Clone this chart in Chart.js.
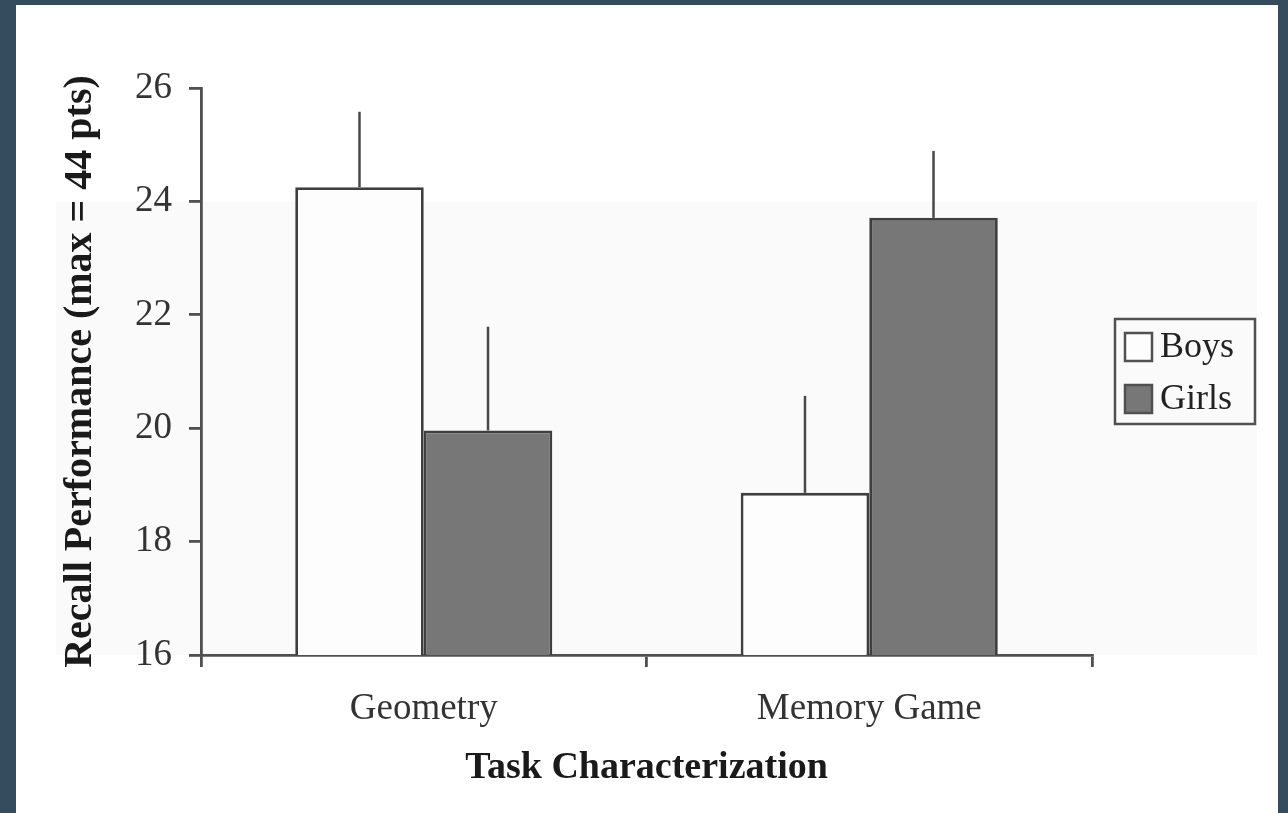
<!DOCTYPE html>
<html>
<head>
<meta charset="utf-8">
<title>Recall Performance by Task Characterization</title>
<script src="https://cdn.jsdelivr.net/npm/chart.js@4/dist/chart.umd.min.js"></script>
<style>
  html, body { margin: 0; padding: 0; }
  body { width: 1288px; height: 813px; background: #344c5e; position: relative; overflow: hidden; }
  #panel { position: absolute; left: 16px; top: 5px; width: 1262px; height: 808px; background: #ffffff; }
  #chart { display: block; }
</style>
</head>
<body>
<div id="panel"><canvas id="chart" width="1262" height="808"></canvas></div>
<script>
// Task categories on the x axis
const categories = ['Geometry', 'Memory Game'];
// Mean recall scores per group
const boysMeans = [24.25, 18.86];
const girlsMeans = [19.96, 23.71];
// Standard errors (drawn as upward whiskers)
const boysErrors = [1.33, 1.71];
const girlsErrors = [1.83, 1.18];
// Y axis range and step
const yTicks = [16, 18, 20, 22, 24, 26];

const FONT = "'Liberation Serif', 'Times New Roman', serif";
const INK = '#484848';

// Upward error whiskers from each bar top
const errorBars = {
  id: 'errorBars',
  afterDatasetsDraw(chart) {
    const { ctx } = chart;
    const y = chart.scales.y;
    chart.data.datasets.forEach((ds, i) => {
      const meta = chart.getDatasetMeta(i);
      meta.data.forEach((el, j) => {
        const top = y.getPixelForValue(ds.data[j] + ds.errors[j]);
        ctx.save();
        ctx.strokeStyle = INK;
        ctx.lineWidth = 2.5;
        ctx.beginPath();
        ctx.moveTo(el.x, el.y);
        ctx.lineTo(el.x, top);
        ctx.stroke();
        ctx.restore();
      });
    });
  }
};

// Faint shaded band behind the lower part of the plot
const backdrop = {
  id: 'backdrop',
  beforeDraw(chart) {
    const { ctx, chartArea } = chart;
    const y = chart.scales.y;
    ctx.save();
    ctx.fillStyle = '#fafafa';
    const top = y.getPixelForValue(24);
    ctx.fillRect(40, top, chartArea.right + 165 - 40, chartArea.bottom - top);
    ctx.restore();
  }
};

// Boxed legend to the right of the plot
const boxedLegend = {
  id: 'boxedLegend',
  afterDraw(chart) {
    const { ctx, chartArea } = chart;
    const w = 140, h = 105;
    const left = chartArea.right + 23;
    const top = (chartArea.top + chartArea.bottom) / 2 - h / 2;
    ctx.save();
    ctx.strokeStyle = '#505050';
    ctx.lineWidth = 2.5;
    ctx.strokeRect(left, top, w, h);
    ctx.font = '36px ' + FONT;
    ctx.textBaseline = 'middle';
    ctx.textAlign = 'left';
    chart.data.datasets.forEach((ds, i) => {
      const cy = top + 28 + i * 52;
      ctx.fillStyle = ds.backgroundColor;
      ctx.fillRect(left + 10, cy - 14, 27, 28);
      ctx.strokeStyle = '#505050';
      ctx.lineWidth = 2.5;
      ctx.strokeRect(left + 10, cy - 14, 27, 28);
      ctx.fillStyle = '#222';
      ctx.fillText(ds.label, left + 45, cy + 1);
    });
    ctx.restore();
  }
};

new Chart(document.getElementById('chart'), {
  type: 'bar',
  data: {
    labels: categories,
    datasets: [
      {
        label: 'Boys',
        data: boysMeans,
        errors: boysErrors,
        backgroundColor: '#fdfdfd',
        borderColor: '#3f3f3f',
        borderWidth: 2.8
      },
      {
        label: 'Girls',
        data: girlsMeans,
        errors: girlsErrors,
        backgroundColor: '#777777',
        borderColor: '#3f3f3f',
        borderWidth: 2.8
      }
    ]
  },
  options: {
    responsive: false,
    animation: false,
    events: [],
    layout: { padding: { left: 0, top: 83, right: 186, bottom: 0 } },
    datasets: { bar: { categoryPercentage: 0.577, barPercentage: 1.0 } },
    plugins: {
      legend: { display: false },
      tooltip: { enabled: false }
    },
    scales: {
      x: {
        offset: true,
        grid: { display: true, drawOnChartArea: false, offset: true, tickLength: 12, color: '#505050', lineWidth: 2.8 },
        border: { display: true, color: '#505050', width: 2.8 },
        ticks: { color: '#333', padding: 20, font: { family: FONT, size: 37 } },
        title: {
          display: true,
          text: 'Task Characterization',
          color: '#1a1a1a',
          font: { family: FONT, size: 38, weight: 'bold' },
          padding: { top: 0, bottom: 22 }
        },
        afterFit(scale) { scale.height = 158; }
      },
      y: {
        min: yTicks[0],
        max: yTicks[yTicks.length - 1],
        afterBuildTicks(scale) { scale.ticks = yTicks.map(v => ({ value: v })); },
        grid: { display: true, drawOnChartArea: false, tickLength: 12, color: '#505050', lineWidth: 2.8 },
        border: { display: true, color: '#505050', width: 2.8 },
        ticks: { color: '#333', padding: 17, font: { family: FONT, size: 37 } },
        title: {
          display: true,
          text: 'Recall Performance (max = 44 pts)',
          color: '#1a1a1a',
          font: { family: FONT, size: 40, weight: 'bold' },
          padding: { top: 41, bottom: 0 }
        },
        afterFit(scale) { scale.width = 185; }
      }
    }
  },
  plugins: [backdrop, errorBars, boxedLegend]
});
</script>
</body>
</html>
